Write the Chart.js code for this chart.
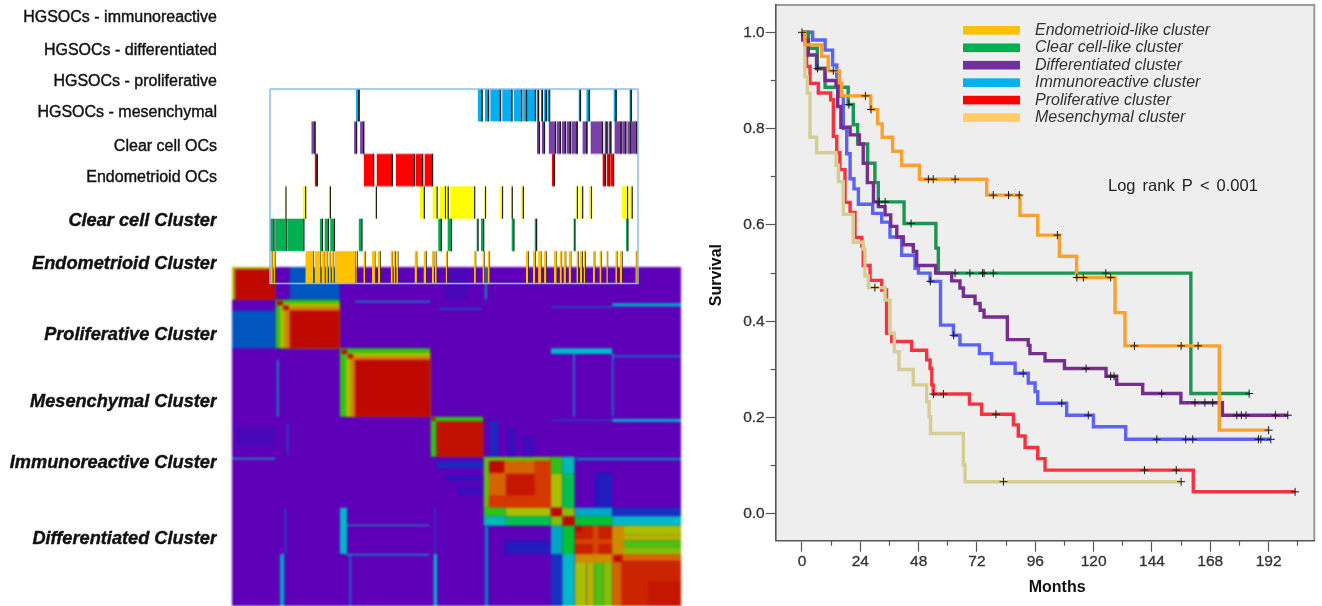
<!DOCTYPE html>
<html>
<head>
<meta charset="utf-8">
<script src="https://cdn.jsdelivr.net/npm/chart.js@4/dist/chart.umd.min.js"></script>
<style>
  html, body { margin: 0; background: #fff; overflow: hidden; }
  .box { position: absolute; }
  #heatBox { left: 232px; top: 267px; width: 449px; height: 339px; filter: blur(0.8px); }
  #trackBox { left: 267.7px; top: 87.3px; width: 372px; height: 197.4px; filter: blur(0.5px); }
  #labelBox { left: 0; top: 0; width: 225px; height: 606px; filter: blur(0.4px); }
  #kmBox { left: 690px; top: 0; width: 632px; height: 606px; filter: blur(0.4px); }
</style>
</head>
<body>
<div class="box" id="heatBox"><canvas id="heat"></canvas></div>
<div class="box" id="labelBox"><canvas id="labels"></canvas></div>
<div class="box" id="trackBox"><canvas id="tracks"></canvas></div>
<div class="box" id="kmBox"><canvas id="km"></canvas></div>
<script>
// row labels on the left
const rowLabels = ['HGSOCs - immunoreactive', 'HGSOCs - differentiated', 'HGSOCs - proliferative', 'HGSOCs - mesenchymal',
  'Clear cell OCs', 'Endometrioid OCs', 'Clear cell Cluster', 'Endometrioid Cluster', 'Proliferative Cluster',
  'Mesenchymal Cluster', 'Immunoreactive Cluster', 'Differentiated Cluster'];
const boldFrom = 6;

// consensus matrix, symmetric: [from, to, from, to, consensus], mirrored when drawn
const consensusBlocks = [
  [0, 150, 0, 150, 0],
  [0, 14.5, 19.2, 36, 0.17], [1, 14.5, 71, 79, 0.04],
  [0, 14.5, 0, 14.5, 0.7], [1, 14.5, 1, 14.5, 1],
  [14.5, 36, 14.5, 36, 0.55], [16, 36, 16, 36, 0.68], [17.5, 36, 17.5, 36, 0.8], [19.2, 36, 19.2, 36, 1],
  [15, 17, 15, 17, 1], [17, 19, 17, 19, 1],
  [36, 66.3, 36, 66.3, 0.55], [38, 66.3, 38, 66.3, 0.68], [39.5, 66.3, 39.5, 66.3, 0.8], [41, 66.3, 41, 66.3, 1],
  [36.5, 38.5, 36.5, 38.5, 1], [38.5, 40.5, 38.5, 40.5, 1],
  [66.3, 84, 66.3, 84, 0.55], [68.2, 84, 68.2, 84, 0.98], [66.6, 68, 66.6, 68, 1],
  [84, 106.5, 84, 106.5, 0.6], [85.7, 106.5, 85.7, 106.5, 0.84], [91.5, 106.5, 91.5, 106.5, 0.97],
  [101, 106.5, 85.7, 106.5, 0.9], [85.8, 91, 85.8, 91, 1],
  [106.5, 110.3, 84, 91.5, 0.55], [106.5, 110.3, 91.5, 106.5, 0.68], [110.3, 114.5, 84, 91.5, 0.35], [110.3, 114.5, 91.5, 106.5, 0.45],
  [106.5, 114.5, 106.5, 114.5, 0.64], [106.5, 110.3, 106.5, 110.3, 1], [110.3, 114.5, 110.3, 114.5, 1],
  [114.5, 127, 114.5, 127, 0.95], [120.5, 122.5, 114.5, 127, 0.88], [114.7, 117, 114.7, 117, 1],
  [121, 127, 91, 106.5, 0.1], [92, 106.5, 122.5, 127, 0.11],
  [114.5, 127, 106.5, 110.3, 0.3], [114.5, 127, 110.3, 114.5, 0.48],
  [127, 150, 106.5, 110.3, 0.13], [127, 150, 110.3, 114.5, 0.33],
  [114.5, 118.5, 127, 150, 0.68], [118.5, 121, 127, 150, 0.7], [121, 124, 127, 150, 0.58], [124, 127, 127, 150, 0.64],
  [127, 131, 114.5, 127, 0.78],
  [127, 150, 127, 150, 0.84], [130, 150, 130, 150, 0.94], [139, 150, 139, 150, 0.97], [127.5, 130.5, 127.5, 130.5, 1],
  [0, 14.5, 84.5, 85.1, 0.35],
  [41, 66.3, 15, 15.6, 0.3], [69, 83.5, 18.3, 18.8, 0.2], [106.5, 127, 17.5, 18, 0.2], [127, 150, 16.2, 16.9, 0.3],
  [106.5, 127, 36, 38.5, 0.33], [127, 150, 39.2, 39.8, 0.25],
  [114, 114.5, 37, 66, 0.33], [127, 127.5, 38, 66, 0.3],
  [106.5, 127, 67.6, 68, 0.2], [127, 150, 67.3, 68.5, 0.33],
  [16, 17.5, 127, 150, 0.3], [84.5, 85.5, 115, 150, 0.25],
  [86, 89, 68, 84, 0.12], [92, 95, 71, 84, 0.07], [97, 101, 75, 84, 0.06]
];

// sample tracks, stripes as [from, to] along the sample axis
const immunoStripes = [[28.7, 29.8], [69.4, 70.9], [71.8, 73.1], [73.6, 77.1], [77.6, 80.9], [81.4, 84.2], [84.6, 85.9], [86.2, 88.8],
  [89.2, 89.8], [90.5, 91.1], [91.6, 92.4], [92.7, 93.5], [103.1, 103.8], [105.7, 106.8], [114.8, 115.7], [120.1, 120.8]];
const diffStripes = [[13.8, 15.1], [28.1, 29], [30.1, 31.4], [89.2, 90.1], [90.9, 91.8], [93.1, 95.5], [95.8, 97.1], [97.5, 98.8],
  [99.1, 100.4], [100.7, 102.7], [104.4, 106], [107.1, 111.2], [111.8, 112.7], [113.1, 114], [115.1, 117.4], [117.7, 119],
  [119.4, 120.7], [120.9, 122.7]];
const prolifStripes = [[14.9, 15.8], [31.3, 34.7], [35.6, 40.9], [42, 48.4], [48.7, 51.1], [51.6, 54.4], [94.2, 95.1],
  [111.1, 112.1], [112.5, 113.5], [113.7, 114.9]];
const mesenStripes = [[4.9, 5.4], [10.9, 12], [19.6, 20.2], [35, 35.6], [50.1, 51.6], [54.3, 55.9], [56.7, 58.7], [58.9, 59.6],
  [60.2, 68.5], [71.6, 72.1], [76.8, 77.8], [80.4, 81], [83.8, 84.7], [102.2, 102.8], [103.6, 104.6], [106.6, 107.5],
  [117.6, 119.6], [120.2, 121.1]];
const clearStripes = [[0, 1.4], [1.7, 5.7], [5.9, 11.4], [16.6, 17.6], [18.2, 19.6], [20.1, 21.6], [29.6, 30.8], [56.2, 57.3], [59.3, 60.7],
  [69, 69.6], [70.5, 71.5], [80.7, 81.6], [88.4, 89.2], [101.4, 102], [119, 119.7]];
const endoStripes = [[0.2, 1], [1.2, 1.8], [11.8, 14.6], [14.9, 17], [17.2, 18.4], [18.7, 19.4], [19.7, 20.4], [20.7, 21.4], [21.6, 28.7],
  [28.8, 29.3], [31.2, 31.9], [34.1, 35.2], [36.1, 37], [40.3, 41.1], [41.3, 42], [42.2, 42.9], [48.3, 49.2], [51.3, 52.3], [54.1, 54.9],
  [55.1, 55.8], [58.7, 59.3], [68.2, 68.9], [71, 71.8], [72.7, 73.5], [85.5, 86.4], [87.9, 88.8], [89.6, 90.7], [91.6, 92.5], [94.9, 95.9],
  [96.8, 97.6], [98.1, 99], [99.8, 100.7], [102.4, 103.1], [103.6, 104.5], [104.8, 105.5], [107.9, 108.7], [110.1, 110.9], [112.4, 113],
  [115.4, 116.1], [116.9, 117.8], [122.1, 122.7]];

// survival curves: month of each drop and survival after it
const endoMonths = [0, 1.2, 8.1, 10.8, 15.4, 16.3, 28.3, 31.1, 33, 37.3, 41, 48.3, 76, 89.7, 97, 105.9, 113, 128.8, 132.9, 171.7, 192];
const endoSurvival = [1, 0.974, 0.95, 0.92, 0.895, 0.868, 0.84, 0.81, 0.782, 0.753, 0.724, 0.695, 0.662, 0.62, 0.579, 0.535, 0.491, 0.418, 0.349, 0.174, 0.174];
const endoCensored = [0, 12.9, 26.1, 28.4, 52, 54, 63, 78.7, 85, 89.4, 105.1, 113.1, 115.8, 127, 136.8, 156, 163, 192];

const clearMonths = [0, 2.7, 6.3, 9.5, 19, 21.1, 22.9, 27, 30, 31.4, 42, 55.1, 56.1, 160, 184];
const clearSurvival = [1, 0.967, 0.925, 0.886, 0.85, 0.808, 0.768, 0.728, 0.688, 0.648, 0.603, 0.552, 0.5, 0.25, 0.25];
const clearCensored = [6.4, 19.3, 31.7, 34.2, 44.9, 63, 69.1, 74.3, 74.9, 78.7, 125, 184];

const diffMonths = [0, 0.3, 2.6, 6, 9.5, 14, 14.7, 16, 19.8, 23.6, 25.2, 26.9, 29.4, 31.4, 34.2, 36.5, 39, 41.7, 45.8, 47.2, 55, 61.6, 65, 66.4, 71.2, 73.3, 74.9, 84.5, 93.1, 93.8, 100, 108, 125.1, 129.5, 140.2, 155.9, 173, 199.9];
const diffSurvival = [1, 0.984, 0.953, 0.925, 0.9, 0.89, 0.846, 0.803, 0.787, 0.768, 0.728, 0.688, 0.648, 0.638, 0.621, 0.597, 0.575, 0.559, 0.545, 0.516, 0.5, 0.484, 0.469, 0.452, 0.437, 0.423, 0.409, 0.362, 0.35, 0.333, 0.318, 0.302, 0.286, 0.269, 0.25, 0.231, 0.205, 0.205];
const diffCensored = [116.9, 127, 128.4, 148, 161.7, 165.8, 169, 178.9, 180.8, 182.7, 194.8, 199.9];

const immunoMonths = [0, 4.4, 9.5, 12.6, 14.3, 15, 17, 18.4, 19.8, 21.4, 23.2, 29.1, 32.8, 36.2, 41, 46.5, 47.9, 52.7, 57, 62.3, 65, 73, 78, 87.7, 93.1, 95.9, 97, 108.9, 119.9, 133.2, 192.9];
const immunoSurvival = [1, 0.984, 0.963, 0.932, 0.908, 0.867, 0.8, 0.748, 0.696, 0.675, 0.643, 0.624, 0.606, 0.575, 0.537, 0.51, 0.5, 0.483, 0.392, 0.371, 0.351, 0.333, 0.313, 0.292, 0.272, 0.254, 0.23, 0.205, 0.181, 0.155, 0.155];
const immunoCensored = [52.8, 62.4, 91, 106.9, 117.8, 146, 157.9, 160.8, 187.8, 188.8, 192.9];

const prolifMonths = [0, 1.9, 3.3, 6.7, 11.8, 12.9, 14.3, 15.6, 17.7, 19.8, 21.8, 24.6, 25.2, 28, 32.8, 34.8, 36.9, 45.1, 51.3, 52.7, 53.4, 54, 68.9, 73.9, 87, 89, 91.8, 97, 100, 161, 202.9];
const prolifSurvival = [1, 0.929, 0.894, 0.874, 0.86, 0.784, 0.75, 0.715, 0.647, 0.626, 0.574, 0.557, 0.516, 0.485, 0.465, 0.375, 0.358, 0.34, 0.32, 0.302, 0.268, 0.249, 0.228, 0.207, 0.185, 0.162, 0.138, 0.115, 0.091, 0.046, 0.046];
const prolifCensored = [54.1, 58.2, 79.8, 140.9, 154, 202.9];

const mesenMonths = [0, 1.2, 2.2, 3.3, 6, 14, 15, 17, 21.1, 25.2, 25.9, 27.3, 34.2, 36.2, 38, 39.9, 45.8, 51.3, 52.3, 52.9, 66.4, 67.1, 156];
const mesenSurvival = [1, 0.908, 0.874, 0.782, 0.75, 0.724, 0.69, 0.622, 0.564, 0.55, 0.494, 0.47, 0.444, 0.375, 0.337, 0.3, 0.268, 0.233, 0.202, 0.167, 0.102, 0.067, 0.067];
const mesenCensored = [30, 82.9, 156];

const legendLabels = ['Endometrioid-like cluster', 'Clear cell-like cluster', 'Differentiated cluster', 'Immunoreactive cluster', 'Proliferative cluster', 'Mesenchymal cluster'];
const monthTicks = [0, 24, 48, 72, 96, 120, 144, 168, 192];
const monthMinorTicks = [12, 36, 60, 84, 108, 132, 156, 180, 204];
const survivalTicks = [0, 0.2, 0.4, 0.6, 0.8, 1];
const survivalMinorTicks = [0.1, 0.3, 0.5, 0.7, 0.9];

// --- helpers
const FONT = '"Liberation Sans", Arial, sans-serif';
const ramp = [[0, [94, 0, 184]], [0.1, [40, 20, 190]], [0.17, [0, 85, 190]], [0.33, [0, 185, 200]], [0.5, [0, 195, 30]],
  [0.68, [170, 190, 0]], [0.8, [210, 130, 0]], [0.9, [212, 55, 0]], [1, [190, 8, 0]]];

function consensusColor(v) {
  for (let i = 1; i < ramp.length; i++) {
    if (v <= ramp[i][0]) {
      const t = (v - ramp[i - 1][0]) / (ramp[i][0] - ramp[i - 1][0]);
      const c = ramp[i - 1][1].map((a, k) => Math.round(a + (ramp[i][1][k] - a) * t));
      return 'rgb(' + c.join(',') + ')';
    }
  }
  return 'rgb(190,8,0)';
}

// one filled rectangle on the chart's scales
function band(x0, x1, y0, y1, color) {
  return {
    type: 'line', data: [{ x: x0, y: y1 }, { x: x1, y: y1 }],
    fill: { value: y0 }, backgroundColor: color, borderWidth: 0, pointRadius: 0
  };
}

function hiddenScales(xMax, yMax) {
  return {
    x: { type: 'linear', min: 0, max: xMax, display: false },
    y: { type: 'linear', min: 0, max: yMax, reverse: true, display: false }
  };
}

function stepAt(months, survival, t) {
  let s = survival[0];
  months.forEach((m, i) => { if (m <= t) s = survival[i]; });
  return s;
}

Chart.defaults.animation = false;
Chart.defaults.responsive = true;
Chart.defaults.maintainAspectRatio = false;
Chart.defaults.events = [];
Chart.defaults.plugins.legend.display = false;
Chart.defaults.plugins.tooltip.enabled = false;

// --- heat map
const heatSets = [];
consensusBlocks.forEach(b => {
  const color = consensusColor(b[4]);
  heatSets.push(band(b[0], b[1], b[2], b[3], color));
  if (b[0] !== b[2]) heatSets.push(band(b[2], b[3], b[0], b[1], color));
});
new Chart(document.getElementById('heat'), {
  type: 'line',
  data: { datasets: heatSets.reverse() }, // first dataset is painted last
  options: { scales: hiddenScales(150, 150), layout: { padding: 0 } }
});

// --- sample tracks
const tracks = [
  [immunoStripes, '#00B0F0', 0.65], [diffStripes, '#7A3FA8', 0.6], [prolifStripes, '#FF0000', 0.6],
  [mesenStripes, '#FFFF00', 0.5], [clearStripes, '#00B050', 0.5], [endoStripes, '#FFC000', 0.3]
];
const trackSets = [{
  type: 'line', data: [{ x: 0, y: 0 }, { x: 123, y: 0 }, { x: 123, y: 6 }, { x: 0, y: 6 }, { x: 0, y: 0 }],
  borderColor: '#8DBBEA', borderWidth: 1.5, pointRadius: 0, fill: false, clip: false
}];
tracks.forEach((t, row) => {
  t[0].forEach(s => {
    trackSets.push(band(s[1] - t[2] * 0.6, s[1] + t[2] * 0.4, row, row + 1, '#1c1c1c'));
    trackSets.push(band(s[0], s[1], row, row + 1, t[1]));
  });
});
new Chart(document.getElementById('tracks'), {
  type: 'line',
  data: { datasets: trackSets },
  options: { scales: hiddenScales(123, 6), layout: { padding: 2 } }
});

// --- row labels, as the ticks of an otherwise empty y axis
const labelRows = [18, 51, 82, 113, 147, 178, 221, 264, 335, 402, 463, 539];
new Chart(document.getElementById('labels'), {
  type: 'line',
  data: { datasets: [] },
  options: {
    layout: { padding: 0 },
    scales: {
      x: { type: 'linear', display: false },
      y: {
        type: 'linear', min: 0, max: 606, reverse: true,
        border: { display: false },
        grid: { display: false, drawTicks: false },
        afterBuildTicks: s => { s.ticks = labelRows.map(v => ({ value: v })); },
        afterFit: s => { s.width = 217; s.paddingTop = 0; s.paddingBottom = 0; },
        ticks: {
          autoSkip: false, padding: 0, color: '#111', textStrokeColor: '#111', textStrokeWidth: 0.4,
          callback: (v, i) => rowLabels[i],
          font: c => c.index >= boldFrom
            ? { family: FONT, size: 18.2, weight: 'bold', style: 'italic' }
            : { family: FONT, size: 16, weight: 'normal' }
        }
      }
    }
  }
});

// --- Kaplan-Meier plot
function curve(months, survival, color, order) {
  return {
    data: months.map((m, i) => ({ x: m, y: survival[i] })),
    showLine: true, stepped: true, borderColor: color, borderWidth: 3.4, pointRadius: 0, order: order, borderJoinStyle: 'miter'
  };
}
function censored(times, months, survival) {
  return {
    data: times.map(t => ({ x: t, y: stepAt(months, survival, t) })),
    showLine: false, pointStyle: 'cross', pointRadius: 4, borderColor: '#1a1a1a', borderWidth: 1, order: 0
  };
}

const legendColors = ['#FFC000', '#00B050', '#7030A0', '#00B0F0', '#FF0000', '#FFCC66'];
const kmPlugin = {
  id: 'kmPlugin',
  beforeDraw(chart) {
    const { ctx, chartArea: a } = chart;
    ctx.save();
    ctx.fillStyle = '#EEEEEE';
    ctx.fillRect(a.left, a.top, a.right - a.left, a.bottom - a.top);
    ctx.strokeStyle = '#999';
    ctx.lineWidth = 2;
    ctx.beginPath();
    ctx.moveTo(a.left, a.top);
    ctx.lineTo(a.right, a.top);
    ctx.lineTo(a.right, a.bottom);
    ctx.stroke();
    ctx.restore();
  },
  afterDraw(chart) {
    const { ctx, scales: { x, y } } = chart;
    ctx.save();
    ctx.textBaseline = 'middle';
    // legend
    legendLabels.forEach((label, i) => {
      const py = 30.3 + i * 17.45;
      ctx.fillStyle = legendColors[i];
      ctx.fillRect(273, py - 4.3, 57, 8.6);
      ctx.fillStyle = '#333';
      ctx.font = 'italic 16px ' + FONT;
      ctx.fillText(label, 345, py);
    });
    ctx.font = '16.5px ' + FONT;
    ctx.fillStyle = '#222';
    ctx.wordSpacing = '2.5px';
    ctx.fillText('Log rank P < 0.001', 418, 186.5);
    ctx.wordSpacing = '0px';
    // axis titles
    ctx.font = 'bold 16px ' + FONT;
    ctx.fillStyle = '#111';
    ctx.textAlign = 'center';
    ctx.fillText('Months', x.getPixelForValue(105), 588);
    ctx.translate(27, y.getPixelForValue(0.496));
    ctx.rotate(-Math.PI / 2);
    ctx.fillText('Survival', 0, 0);
    ctx.restore();
  }
};

new Chart(document.getElementById('km'), {
  type: 'scatter',
  data: {
    datasets: [
      curve(endoMonths, endoSurvival, '#F9A12E', 1),
      curve(clearMonths, clearSurvival, '#1A9652', 3),
      curve(diffMonths, diffSurvival, '#762D91', 2),
      curve(immunoMonths, immunoSurvival, '#5B63F5', 4),
      curve(mesenMonths, mesenSurvival, '#D6CD93', 5),
      curve(prolifMonths, prolifSurvival, '#F5333F', 6),
      censored(endoCensored, endoMonths, endoSurvival),
      censored(clearCensored, clearMonths, clearSurvival),
      censored(diffCensored, diffMonths, diffSurvival),
      censored(immunoCensored, immunoMonths, immunoSurvival),
      censored(prolifCensored, prolifMonths, prolifSurvival),
      censored(mesenCensored, mesenMonths, mesenSurvival)
    ]
  },
  plugins: [kmPlugin],
  options: {
    layout: { padding: { top: 5, right: 7.7, left: 0, bottom: 0 } },
    scales: {
      x: {
        type: 'linear', position: 'bottom', min: -10.82, max: 210.8, weight: 2,
        border: { color: '#555', width: 1.6 },
        grid: { drawOnChartArea: false, tickLength: 11, tickColor: '#555', tickWidth: 1.2 },
        afterBuildTicks: s => { s.ticks = monthTicks.map(v => ({ value: v })); },
        afterFit: s => { s.height = 65.3; s.paddingLeft = 0; s.paddingRight = 0; },
        ticks: { autoSkip: false, maxRotation: 0, padding: 1, color: '#333', textStrokeColor: '#333', textStrokeWidth: 0.3, font: { family: FONT, size: 15.5 } }
      },
      xMinor: {
        type: 'linear', position: 'bottom', min: -10.82, max: 210.8, weight: 1,
        border: { display: false },
        grid: { drawOnChartArea: false, tickLength: 5, tickColor: '#555', tickWidth: 1.2 },
        afterBuildTicks: s => { s.ticks = monthMinorTicks.map(v => ({ value: v })); },
        afterFit: s => { s.height = 0; s.paddingLeft = 0; s.paddingRight = 0; },
        ticks: { display: false }
      },
      y: {
        type: 'linear', position: 'left', min: -0.0555, max: 1.0567, weight: 2,
        border: { color: '#555', width: 1.6 },
        grid: { drawOnChartArea: false, tickLength: 10, tickColor: '#555', tickWidth: 1.2 },
        afterBuildTicks: s => { s.ticks = survivalTicks.map(v => ({ value: v })); },
        afterFit: s => { s.width = 85.7; s.paddingTop = 0; s.paddingBottom = 0; },
        ticks: { autoSkip: false, padding: 1, color: '#333', textStrokeColor: '#333', textStrokeWidth: 0.3, font: { family: FONT, size: 15.5 }, callback: v => v.toFixed(1) }
      },
      yMinor: {
        type: 'linear', position: 'left', min: -0.0555, max: 1.0567, weight: 1,
        border: { display: false },
        grid: { drawOnChartArea: false, tickLength: 5, tickColor: '#555', tickWidth: 1.2 },
        afterBuildTicks: s => { s.ticks = survivalMinorTicks.map(v => ({ value: v })); },
        afterFit: s => { s.width = 0; s.paddingTop = 0; s.paddingBottom = 0; },
        ticks: { display: false }
      }
    }
  }
});
</script>
</body>
</html>
